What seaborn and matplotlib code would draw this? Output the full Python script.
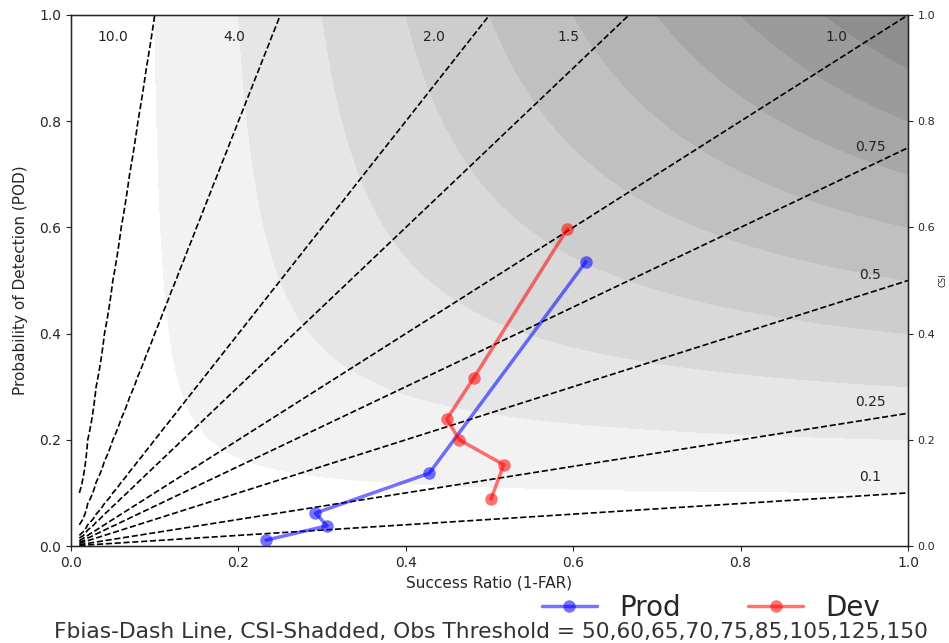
import numpy as np
import matplotlib
matplotlib.use("Agg")
import matplotlib.pyplot as plt
import seaborn as sns
import pandas as pd

# ---- data ----
prod_sr = [0.233, 0.306, 0.292, 0.428, 0.615]
prod_pod = [0.011, 0.038, 0.062, 0.137, 0.535]
dev_sr = [0.593, 0.481, 0.449, 0.464, 0.517, 0.502]
dev_pod = [0.597, 0.316, 0.239, 0.200, 0.153, 0.089]
bias_levels = [0.1, 0.25, 0.5, 0.75, 1.0, 1.5, 2.0, 4.0, 10.0]
bias_label_text = ["10.0", "4.0", "2.0", "1.5", "1.0", "0.75", "0.5", "0.25", "0.1"]
bias_label_x = [0.05, 0.195, 0.434, 0.594, 0.915, 0.955, 0.955, 0.955, 0.955]
bias_label_y = [0.958, 0.958, 0.958, 0.958, 0.958, 0.751, 0.51, 0.271, 0.13]
csi_levels = [0.1, 0.2, 0.3, 0.4, 0.5, 0.6, 0.7, 0.8, 0.9, 1.0]
csi_grays = ["#f2f2f2", "#e6e6e6", "#d9d9d9", "#cdcdcd", "#c0c0c0",
             "#b4b4b4", "#a7a7a7", "#9b9b9b", "#8e8e8e"]

sns.set_style("ticks")
plt.rcParams['font.family'] = ['DejaVu Sans']

fig = plt.figure(figsize=(9.49, 6.43), dpi=100)
ax = fig.add_axes([71/949, 1-546/643, (908-71)/949, (546-15)/643])

grid = np.arange(0, 1.01, 0.01)
sr_g, pod_g = np.meshgrid(grid, grid)
with np.errstate(divide="ignore", invalid="ignore"):
    bias = pod_g / sr_g
    csi = 1.0 / (1.0 / sr_g + 1.0 / pod_g - 1.0)

ax.contourf(sr_g, pod_g, csi, levels=csi_levels, colors=csi_grays, extend="max")
ax.contour(sr_g, pod_g, bias, levels=bias_levels, colors="k",
           linestyles="dashed", linewidths=1.2)
for t, bx, by in zip(bias_label_text, bias_label_x, bias_label_y):
    ax.text(bx, by, t, fontsize=10, ha="center", va="center", color="#222222")

df_prod = pd.DataFrame({"sr": prod_sr, "pod": prod_pod})
df_dev = pd.DataFrame({"sr": dev_sr, "pod": dev_pod})
sns.lineplot(data=df_prod, x="sr", y="pod", sort=False, ax=ax, color="blue",
             alpha=0.55, lw=2.5, marker="o", markersize=9, markeredgewidth=0,
             label="Prod", legend=False)
sns.lineplot(data=df_dev, x="sr", y="pod", sort=False, ax=ax, color="red",
             alpha=0.55, lw=2.5, marker="o", markersize=9, markeredgewidth=0,
             label="Dev", legend=False)

ax.set_xlim(0, 1)
ax.set_ylim(0, 1)
ax.set_xticks(np.arange(0, 1.01, 0.2))
ax.set_yticks(np.arange(0, 1.01, 0.2))
ax.tick_params(labelsize=10, length=3.5, width=0.8)
ax.set_xlabel("Success Ratio (1-FAR)", fontsize=11)
ax.set_ylabel("Probability of Detection (POD)", fontsize=11, labelpad=8)
for s in ax.spines.values():
    s.set_linewidth(1.0)
    s.set_color("black")

ax2 = ax.twinx()
ax2.set_ylim(0, 1)
ax2.set_yticks(np.arange(0, 1.01, 0.2))
ax2.tick_params(labelsize=8, length=3.5, width=0.8)
ax2.set_ylabel("CSI", fontsize=6, labelpad=2)
ax2.grid(False)

handles, labels = ax.get_legend_handles_labels()
fig.legend(handles, labels, loc="center", bbox_to_anchor=(711/949, 1-608/643),
           ncol=2, frameon=False, fontsize=20, handlelength=2.0,
           columnspacing=2.4, handletextpad=0.8)

fig.text(491/949, 1-632/643, "Fbias-Dash Line, CSI-Shadded, Obs Threshold = 50,60,65,70,75,85,105,125,150",
         ha="center", va="center", fontsize=15.7, color="#333333")

fig.savefig("out.png", dpi=100)
